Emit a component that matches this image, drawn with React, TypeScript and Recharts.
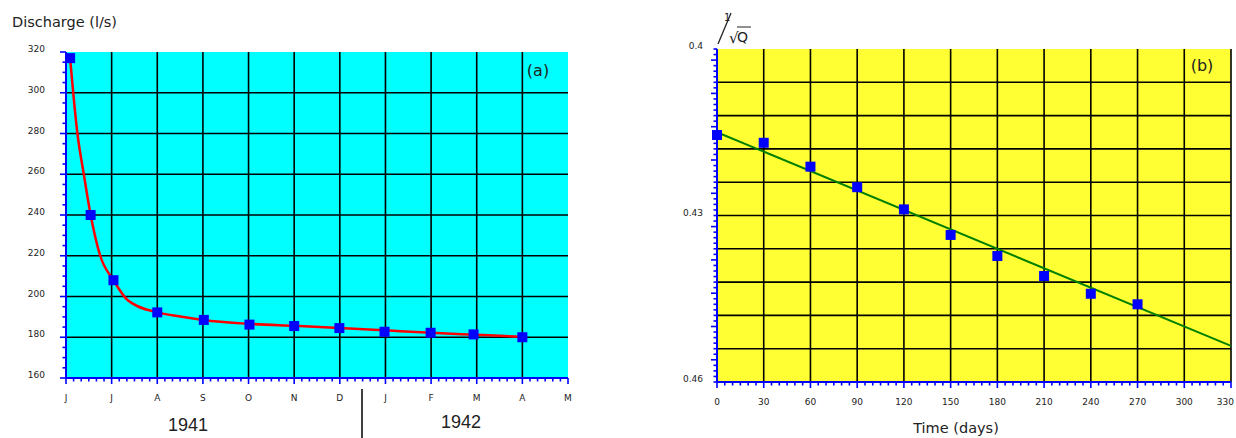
import React from 'react';
import { ComposedChart, Line, Scatter, XAxis, YAxis, CartesianGrid } from 'recharts';

// (a) discharge recession, months from June 1941
const months = ['J', 'J', 'A', 'S', 'O', 'N', 'D', 'J', 'F', 'M', 'A', 'M'];
const sampleMonth = [0.09, 0.54, 1.04, 2.0, 3.02, 4.02, 5.0, 5.99, 6.98, 7.99, 8.93, 10.0];
const sampleDischarge = [317, 240, 208, 192.2, 188.5, 186.2, 185.5, 184.5, 182.7, 182.2, 181.4, 180];
const curveMonth = [0.09, 0.25, 0.39, 0.54, 0.75, 1.04, 1.36, 2.0, 2.5, 3.0, 4.0, 5.0, 6.0, 7.0, 8.0, 9.0, 10.0];
const curveDischarge = [317, 280, 260, 240, 220, 208, 198, 192.2, 190.2, 188.5, 186.6, 185.6, 184.6, 183.4, 182.2, 181.2, 180.2];
const dischargeLabels = [160, 180, 200, 220, 240, 260, 280, 300, 320];

// (b) 1/sqrt(Q) against time
const days = [0, 30, 60, 90, 120, 150, 180, 210, 240, 270];
const invSqrtQ = [0.4155, 0.4169, 0.4212, 0.4249, 0.4289, 0.4335, 0.4373, 0.4409, 0.4441, 0.446];
const fitDays = [0, 330];
const fitInvSqrtQ = [0.415, 0.4535];
const dayLabels = [0, 30, 60, 90, 120, 150, 180, 210, 240, 270, 300, 330];
const invLabels = [0.4, 0.43, 0.46];

const samplesA = sampleMonth.map((x, i) => ({ x, y: sampleDischarge[i] }));
const curveA = curveMonth.map((x, i) => ({ x, y: curveDischarge[i] }));
const samplesB = days.map((x, i) => ({ x, y: invSqrtQ[i] }));
const fitB = fitDays.map((x, i) => ({ x, y: fitInvSqrtQ[i] }));

// axis tick positions (major + minor)
const monthTicks = Array.from({ length: 11 * 6 + 1 }, (_, i) => i / 6);
const dischargeTicks = Array.from({ length: 33 }, (_, i) => 160 + i * 5);
const dayTicks = Array.from({ length: 67 }, (_, i) => i * 5);
const invTicks = Array.from({ length: 61 }, (_, i) => (400 + i) / 1000);

const BLUE = '#0000ff';
const INK = '#222';
const FONT = '"DejaVu Sans", sans-serif';

const near = (a: number, b: number) => Math.abs(a - b) < 1e-7;
const isMultiple = (v: number, step: number) => near(v / step, Math.round(v / step));

const Square = (props: any) => (
  <rect x={props.cx - 5} y={props.cy - 5} width={10} height={10} fill={BLUE} />
);

const xTick = (step: number, last: number, label: (v: number) => string | null) => (props: any) => {
  const { x, y, payload } = props;
  const v = payload.value as number;
  const major = isMultiple(v, step);
  const text = major ? label(v) : null;
  const atEnd = near(v, last);
  return (
    <g>
      <line x1={x} y1={y} x2={x} y2={y + (major ? 6 : 3.5)} stroke={BLUE} strokeWidth={1.6} />
      {text !== null && (
        <text
          x={atEnd ? x + 3 : x}
          y={y + 20}
          textAnchor={atEnd ? 'end' : 'middle'}
          dominantBaseline="central"
          fontSize={9}
          fontFamily={FONT}
          fill={INK}
        >
          {text}
        </text>
      )}
    </g>
  );
};

const yTick = (step: number, gap: number, label: (v: number) => string | null) => (props: any) => {
  const { x, y, payload } = props;
  const v = payload.value as number;
  const major = isMultiple(v, step);
  const text = label(v);
  return (
    <g>
      <line x1={x - (major ? 6 : 3.5)} y1={y} x2={x} y2={y} stroke={BLUE} strokeWidth={1.6} />
      {text !== null && (
        <text x={x - gap} y={y - 3} textAnchor="end" dominantBaseline="central" fontSize={9} fontFamily={FONT} fill={INK}>
          {text}
        </text>
      )}
    </g>
  );
};

const DischargeChart = () => (
  <ComposedChart width={600} height={438} margin={{ top: 52, right: 32, bottom: 0, left: 0 }}>
    <CartesianGrid
      fill="#00ffff"
      fillOpacity={1}
      stroke="#000"
      strokeWidth={1.6}
      horizontalValues={dischargeLabels.filter((v) => v > 160 && v < 320)}
      verticalValues={months.map((_, i) => i).filter((i) => i > 0 && i < 11)}
    />
    <XAxis
      type="number"
      dataKey="x"
      domain={[0, 11]}
      ticks={monthTicks}
      interval={0}
      height={60}
      tickSize={0}
      tickMargin={0}
      axisLine={{ stroke: BLUE, strokeWidth: 2 }}
      tick={xTick(1, -1, (v) => months[Math.round(v)])}
    />
    <YAxis
      type="number"
      dataKey="y"
      domain={[160, 320]}
      ticks={dischargeTicks}
      interval={0}
      width={66}
      tickSize={0}
      tickMargin={0}
      axisLine={{ stroke: BLUE, strokeWidth: 2 }}
      tick={yTick(20, 21, (v) => (isMultiple(v, 20) ? String(v) : null))}
    />
    <Line data={curveA} dataKey="y" type="monotone" stroke="#ff0000" strokeWidth={2.5} dot={false} isAnimationActive={false} />
    <Scatter data={samplesA} dataKey="y" shape={Square} isAnimationActive={false} />
  </ComposedChart>
);

const RecessionChart = () => (
  <ComposedChart width={636} height={438} margin={{ top: 49, right: 5, bottom: 0, left: 57 }}>
    <CartesianGrid
      fill="#ffff33"
      fillOpacity={1}
      stroke="#000"
      strokeWidth={1.6}
      horizontalValues={Array.from({ length: 9 }, (_, k) => (406 + 6 * k) / 1000)}
      verticalValues={dayLabels.filter((d) => d > 0)}
    />
    <XAxis
      type="number"
      dataKey="x"
      domain={[0, 330]}
      ticks={dayTicks}
      interval={0}
      height={56}
      tickSize={0}
      tickMargin={0}
      axisLine={{ stroke: BLUE, strokeWidth: 2 }}
      tick={xTick(30, 330, (v) => String(v))}
    />
    <YAxis
      type="number"
      dataKey="y"
      reversed
      domain={[0.4, 0.46]}
      ticks={invTicks}
      interval={0}
      width={60}
      tickSize={0}
      tickMargin={0}
      axisLine={{ stroke: BLUE, strokeWidth: 2 }}
      tick={yTick(0.006, 14, (v) => {
        const hit = invLabels.find((l) => near(l, v));
        return hit === undefined ? null : String(hit);
      })}
    />
    <Line data={fitB} dataKey="y" type="linear" stroke="#008000" strokeWidth={2} dot={false} isAnimationActive={false} />
    <Scatter data={samplesB} dataKey="y" shape={Square} isAnimationActive={false} />
  </ComposedChart>
);

export default function App() {
  return (
    <div style={{ position: 'absolute', left: 0, top: 0, width: 1236, height: 438, background: '#fff' }}>
      <div style={{ position: 'absolute', left: 0, top: 0 }}>
        <DischargeChart />
      </div>
      <div style={{ position: 'absolute', left: 600, top: 0 }}>
        <RecessionChart />
      </div>
      <svg width={1236} height={438} style={{ position: 'absolute', left: 0, top: 0, pointerEvents: 'none' }}>
        <text x={12} y={22} dominantBaseline="central" fontSize={14.5} fontFamily={FONT} fill={INK}>Discharge (l/s)</text>
        <text x={538} y={70} textAnchor="middle" dominantBaseline="central" fontSize={16} fontFamily={FONT} fill={INK}>(a)</text>
        <text x={1202} y={65} textAnchor="middle" dominantBaseline="central" fontSize={16} fontFamily={FONT} fill={INK}>(b)</text>
        <text x={188} y={425} textAnchor="middle" dominantBaseline="central" fontSize={18} fontFamily='"Liberation Sans", Arial, sans-serif' fill={INK}>1941</text>
        <text x={461} y={422} textAnchor="middle" dominantBaseline="central" fontSize={18} fontFamily='"Liberation Sans", Arial, sans-serif' fill={INK}>1942</text>
        <line x1={362} y1={389} x2={362} y2={438} stroke="#000" strokeWidth={1.5} />
        <text x={956} y={428} textAnchor="middle" dominantBaseline="central" fontSize={14.5} fontFamily={FONT} fill={INK}>Time (days)</text>
        <text x={724} y={21} fontSize={10} fontFamily={FONT} fill={INK}>1</text>
        <line x1={718} y1={44} x2={731} y2={13} stroke={INK} strokeWidth={1.3} />
        <text x={729} y={43} fontSize={15} fontFamily={FONT} fill={INK}>√</text>
        <line x1={737} y1={27} x2={751} y2={27} stroke={INK} strokeWidth={1} />
        <text x={737} y={42} fontSize={14} fontFamily={FONT} fill={INK}>Q</text>
      </svg>
    </div>
  );
}
